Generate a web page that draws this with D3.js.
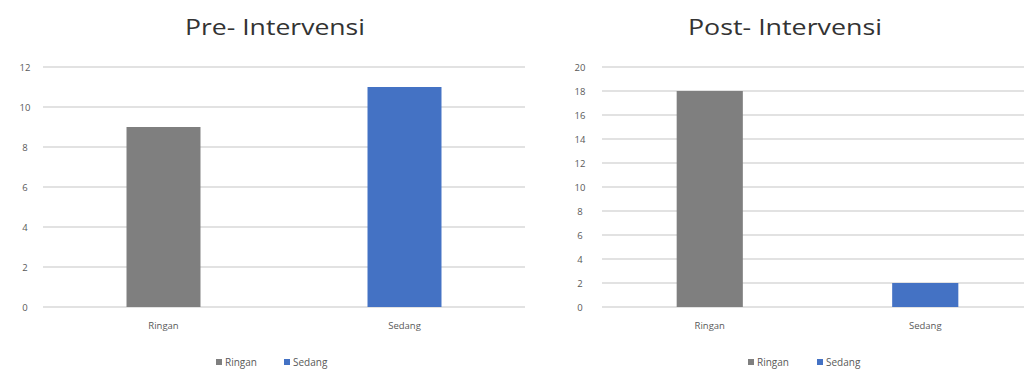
<!DOCTYPE html>
<html>
<head>
<meta charset="utf-8">
<script src="https://cdn.jsdelivr.net/npm/d3@7"></script>
<style>
  html, body { margin: 0; padding: 0; background: #fff; }
  svg { display: block; }
</style>
</head>
<body>
<svg id="chart" width="1024" height="370"></svg>
<script>
// ---- data ----
const categories = ["Ringan", "Sedang"];
const categoryLabels = ["Ringan", "Sedang"];
const preValues = [9, 11];
const postValues = [18, 2];
const preTicks = [0, 2, 4, 6, 8, 10, 12];
const postTicks = [0, 2, 4, 6, 8, 10, 12, 14, 16, 18, 20];
const titles = ["Pre- Intervensi", "Post- Intervensi"];
const legendLabels = ["Ringan", "Sedang"];
const colors = ["#7f7f7f", "#4472c4"];

const svg = d3.select("#chart");
const font = "'Open Sans', 'DejaVu Sans', sans-serif";

function drawPanel(cfg) {
  const g = svg.append("g");
  const x = d3.scaleBand().domain(categories).range([cfg.x0, cfg.x1])
    .paddingInner(0.693).paddingOuter(0.3465);
  const y = d3.scaleLinear().domain([0, cfg.ticks[cfg.ticks.length - 1]]).range([307, 67]);

  // gridlines
  g.append("g").selectAll("line").data(cfg.ticks).join("line")
    .attr("x1", cfg.x0).attr("x2", Math.min(cfg.x1, cfg.gridEnd))
    .attr("y1", d => y(d)).attr("y2", d => y(d))
    .attr("stroke", "#d9d9d9").attr("stroke-width", 1.5);

  // y axis labels
  const yAxis = d3.axisLeft(y).tickValues(cfg.ticks).tickSize(0).tickPadding(0);
  const ya = g.append("g").attr("transform", `translate(${cfg.labelX},0)`).call(yAxis);
  ya.select(".domain").remove();
  ya.selectAll("text").attr("font-family", font).attr("font-size", 9.5)
    .attr("fill", "#595959").attr("text-anchor", "middle");

  // bars
  g.append("g").selectAll("rect").data(cfg.values).join("rect")
    .attr("x", (d, i) => x(categories[i]))
    .attr("width", x.bandwidth())
    .attr("y", d => y(d))
    .attr("height", d => y(0) - y(d))
    .attr("fill", (d, i) => colors[i]);

  // x axis labels
  const xAxis = d3.axisBottom(x).tickSize(0).tickPadding(0)
    .tickFormat((d, i) => categoryLabels[i]);
  const xa = g.append("g").attr("transform", `translate(0,322)`).call(xAxis);
  xa.select(".domain").remove();
  xa.selectAll("text").attr("font-family", font).attr("font-size", 9.5).attr("fill", "#595959");

  // title
  g.append("text").attr("x", cfg.titleX).attr("y", 35)
    .attr("text-anchor", "middle").attr("font-family", font)
    .attr("font-size", 22).attr("font-weight", 500).attr("fill", "#333333")
    .attr("textLength", cfg.titleW).attr("lengthAdjust", "spacingAndGlyphs")
    .text(cfg.title);

  // legend
  const lg = g.append("g");
  legendLabels.forEach((lbl, i) => {
    const lx = cfg.legendX[i];
    lg.append("rect").attr("x", lx).attr("y", 359).attr("width", 6).attr("height", 6)
      .attr("fill", colors[i]);
    lg.append("text").attr("x", lx + 9).attr("y", 365.5)
      .attr("font-family", font).attr("font-size", 10).attr("fill", "#595959").text(lbl);
  });
}

drawPanel({
  x0: 43, x1: 525, gridEnd: 525, labelX: 25, ticks: preTicks, values: preValues,
  title: titles[0], titleX: 275, titleW: 180, legendX: [216, 284]
});
drawPanel({
  x0: 602, x1: 1033, gridEnd: 1024, labelX: 580, ticks: postTicks, values: postValues,
  title: titles[1], titleX: 785, titleW: 194, legendX: [748, 817]
});
</script>
</body>
</html>
